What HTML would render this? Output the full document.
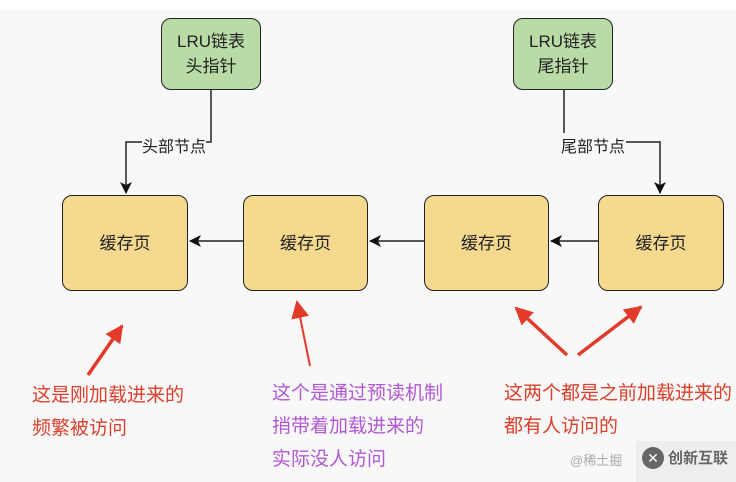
<!DOCTYPE html>
<html><head><meta charset="utf-8"><style>
body{margin:0;width:736px;height:482px;background:#f8f8f8;overflow:hidden;position:relative;font-family:"Liberation Sans","Noto Sans CJK SC",sans-serif}
.b{position:absolute;border:1.5px solid #222;border-radius:10px;display:flex;align-items:center;justify-content:center;text-align:center;font-size:17px;color:#222;box-sizing:border-box;line-height:25px}
.g{background:#b9dca6}
.y{background:#f5d98e}
.t{position:absolute;font-size:19px;line-height:33px}
.r{color:#d9402c}.p{color:#b158d4}
</style></head><body>
<div style="position:absolute;left:0;top:0;width:736px;height:10px;background:#fff"></div>
<div class="b g" style="left:161px;top:18px;width:100px;height:72px">LRU链表<br>头指针</div>
<div class="b g" style="left:513px;top:18px;width:100px;height:72px">LRU链表<br>尾指针</div>
<div class="b y" style="left:62px;top:195px;width:126px;height:96px">缓存页</div>
<div class="b y" style="left:243px;top:195px;width:125px;height:96px">缓存页</div>
<div class="b y" style="left:424px;top:195px;width:125px;height:96px">缓存页</div>
<div class="b y" style="left:598px;top:195px;width:126px;height:96px">缓存页</div>
<div class="t" style="left:142px;top:131px;font-size:16px;color:#222">头部节点</div>
<div class="t" style="left:561px;top:131px;font-size:16px;color:#222">尾部节点</div>
<svg width="736" height="482" style="position:absolute;left:0;top:0">
<defs><marker id="a" markerWidth="12" markerHeight="12" refX="11" refY="6" orient="auto" markerUnits="userSpaceOnUse"><path d="M0,0 L12,6 L0,12 L3,6z" fill="#111"/></marker>
<marker id="ra" markerWidth="18" markerHeight="18" refX="16" refY="9" orient="auto" markerUnits="userSpaceOnUse"><path d="M0,0 L18,9 L0,18z" fill="#e43a2a"/></marker></defs>
<g stroke="#222" stroke-width="1.5" fill="none">
<path d="M211,90 V142 H206 M142,142 H126 V193" marker-end="url(#a)"/>
<path d="M564,90 V133 M626,142 H660 V193" marker-end="url(#a)"/>
<path d="M243,241 H190" marker-end="url(#a)"/>
<path d="M424,241 H370" marker-end="url(#a)"/>
<path d="M598,241 H551" marker-end="url(#a)"/>
</g>
<g stroke="#e43a2a" stroke-width="3.5" fill="none">
<path d="M88,375 L122,326" marker-end="url(#ra)"/>
<path d="M310,366 L297,302" marker-end="url(#ra)" stroke-width="2"/>
<path d="M567,355 L516,308" marker-end="url(#ra)"/>
<path d="M578,355 L641,307" marker-end="url(#ra)"/>
</g>
</svg>
<div class="t r" style="left:32px;top:379px">这是刚加载进来的<br>频繁被访问</div>
<div class="t p" style="left:272px;top:377px">这个是通过预读机制<br>捎带着加载进来的<br>实际没人访问</div>
<div class="t r" style="left:504px;top:377px">这两个都是之前加载进来的<br>都有人访问的</div>
<div style="position:absolute;left:570px;top:450px;font-size:13px;color:#aaa">@稀土掘</div>
<div style="position:absolute;left:636px;top:441px;width:100px;height:41px;background:#eee"></div>
<div style="position:absolute;left:642px;top:447px;width:22px;height:22px;border-radius:50%;background:#666;color:#fff;font-size:14px;text-align:center;line-height:22px">✕</div>
<div style="position:absolute;left:668px;top:447px;font-size:15px;color:#666;font-weight:bold">创新互联</div>
</body></html>
